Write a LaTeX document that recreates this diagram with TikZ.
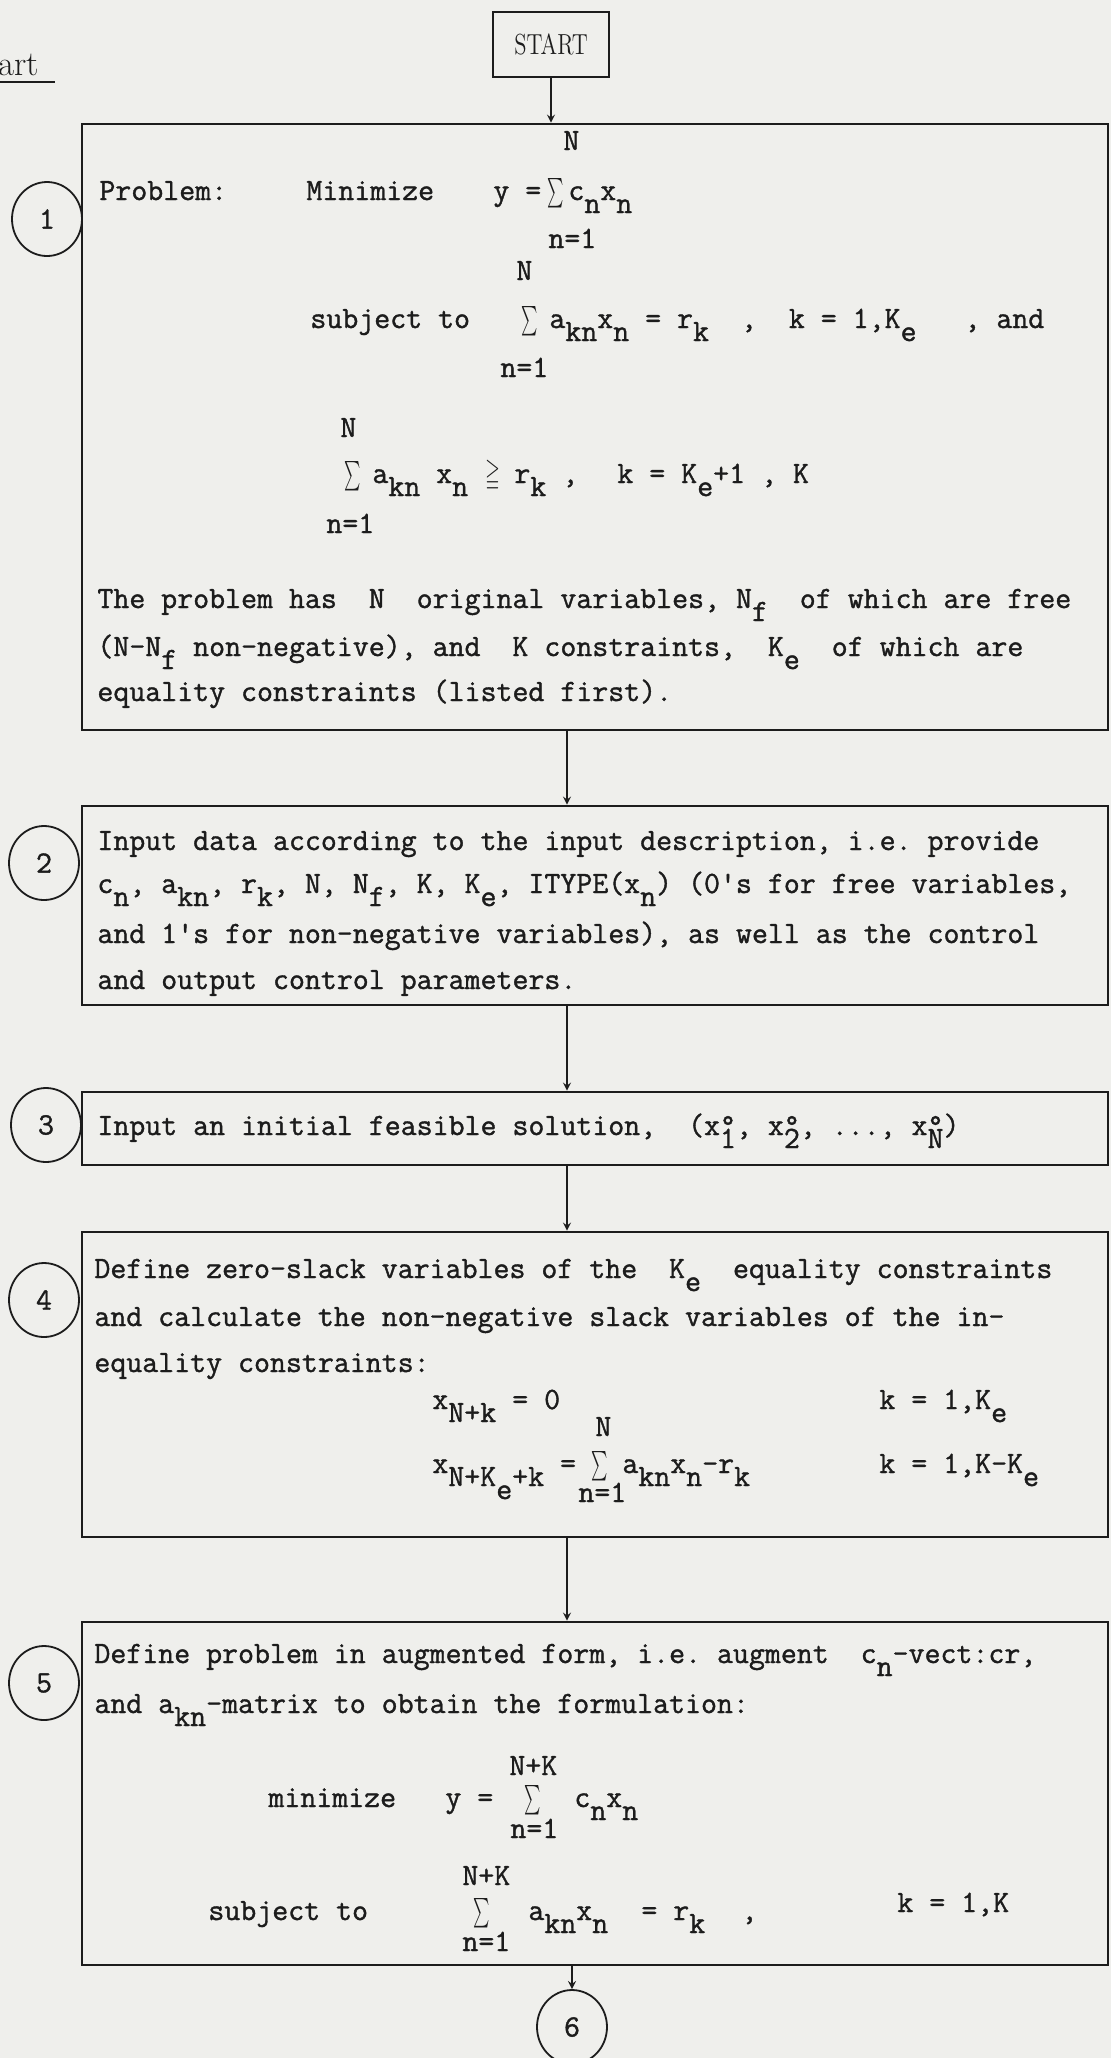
\documentclass[tikz,border=0pt]{standalone}
\usepackage{fontspec}
\setmonofont{Latin Modern Mono}[FakeBold=1.2]
\usepackage{amssymb}
\usepackage{graphicx}
\usetikzlibrary{positioning,shapes.geometric,arrows,calc,fit}

\definecolor{ink}  {HTML}{1C1C1C}
\definecolor{paper}{HTML}{EFEFEC}

\newcommand\tyfont{\fontsize{15.5}{18}\selectfont\ttfamily\frenchspacing}
\newcommand\subdn[1]{\raisebox{-0.42em}{#1}}
\newcommand\sumsym{\scalebox{0.5}[0.95]{$\sum$}}
\newcommand\gesym{\scalebox{0.6}[1]{$\geqq$}}

\tikzset{
  >=stealth,
  % --- nodes
  stepbox/.style  = {draw=ink, line width=1.3pt, inner sep=0pt},
  startbox/.style = {draw=ink, line width=1pt, minimum width=58pt, minimum height=32.5pt,
                     inner sep=0pt, font=\fontsize{14.5}{16}\selectfont, text=ink},
  num/.style      = {ellipse, draw=ink, line width=0.9pt, minimum width=35pt,
                     minimum height=37pt, inner sep=0pt, font=\tyfont, text=ink},
  tw/.style       = {anchor=base west, inner sep=0pt, font=\tyfont, text=ink},
  % --- edges
  flow/.style     = {->, draw=ink, line width=0.8pt},
}

\begin{document}
\begin{tikzpicture}[x=0.5pt,y=-0.5pt]
  \fill[paper] (0,0) rectangle (1111,2058);
  \useasboundingbox (0,0) rectangle (1111,2058);

  % title remnant
  \node[anchor=base west, inner sep=0pt, font=\fontsize{17.4}{20}\selectfont, text=ink] (title) at (-2,75) {art};
  \draw[ink, line width=0.7pt] (title.base west |- 0,82) -- (55,82);

  % start
  \node[startbox] (start) at (551,44.5) {\scalebox{0.78}[1]{START}};

  % step boxes
  \node[stepbox, fit={(82,124) (1108,730)}]   (b1) {};
  \node[stepbox, fit={(82,806) (1108,1005)}]  (b2) {};
  \node[stepbox, fit={(82,1092) (1108,1165)}] (b3) {};
  \node[stepbox, fit={(82,1232) (1108,1537)}] (b4) {};
  \node[stepbox, fit={(82,1622) (1108,1965)}] (b5) {};

  % step numbers
  \node[num] (c1) at (47,219)  {1};
  \node[num] (c2) at (44,863)  {2};
  \node[num] (c3) at (46,1125) {3};
  \node[num] (c4) at (44,1300) {4};
  \node[num] (c5) at (44,1683) {5};
  \node[num] (c6) at (572,2027) {6};

  % flow
  \coordinate (spine) at (567,0);
  \draw[flow] (start.south) -- (start.south |- b1.north);
  \draw[flow] (b1.south -| spine) -- (b2.north -| spine);
  \draw[flow] (b2.south -| spine) -- (b3.north -| spine);
  \draw[flow] (b3.south -| spine) -- (b4.north -| spine);
  \draw[flow] (b4.south -| spine) -- (b5.north -| spine);
  \draw[flow] (b5.south -| c6) -- (c6.north);

  % box 1
  \node[tw] (t1n1) at (563,150) {N};
  \node[tw] (t1p)  at (99,200)  {Problem:};
  \node[tw] (t1m)  at (306,200) {Minimize};
  \node[tw] (t1y)  at (493,200) {y~=};
  \node[tw] (s1a)  at (547,200) {\sumsym};
  \node[tw] (t1c)  at (568,200) {c\subdn{n}x\subdn{n}};
  \node[tw] (t1l1) at (548,248) {n=1};
  \node[tw] (t1n2) at (516,280) {N};
  \node[tw] (t1s)  at (310,328) {subject~to};
  \node[tw] (s1b)  at (521,328) {\sumsym};
  \node[tw] (t1a)  at (549,328) {a\subdn{kn}x\subdn{n}~=~r\subdn{k}~~,~~k~=~1,K\subdn{e}~~~,~and};
  \node[tw] (t1l2) at (500,377) {n=1};
  \node[tw] (t1n3) at (340,437) {N};
  \node[tw] (s1c)  at (344,483) {\sumsym};
  \node[tw] (t1d)  at (372,483) {a\subdn{kn}~x\subdn{n}};
  \node[tw] (t1g)  at (485,483) {\gesym};
  \node[tw] (t1r)  at (514,483) {r\subdn{k}~,};
  \node[tw] (t1k)  at (617,483) {k~=~K\subdn{e}+1~,~K};
  \node[tw] (t1l3) at (326,533) {n=1};
  \node[tw] (t1e1) at (97,608)  {The problem has~~N~~original variables, N\subdn{f}~~of which are free};
  \node[tw] (t1e2) at (97,656)  {(N-N\subdn{f} non-negative), and~~K constraints,~~K\subdn{e}~~of which are};
  \node[tw] (t1e3) at (97,701)  {equality constraints (listed first).};

  % box 2
  \node[tw] (t2a) at (97,850) {Input data according to the input description, i.e. provide};
  \node[tw] (t2b) at (97,893) {c\subdn{n}, a\subdn{kn}, r\subdn{k}, N, N\subdn{f}, K, K\subdn{e}, ITYPE(x\subdn{n}) (0\textquotesingle s for free variables,};
  \node[tw] (t2c) at (97,943) {and 1\textquotesingle s for non-negative variables), as well as the control};
  \node[tw] (t2d) at (97,989) {and output control parameters.};

  % box 3
  \node[tw] (t3a) at (97,1135) {Input an initial feasible solution,~~(x\rlap{°}\subdn{1}, x\rlap{°}\subdn{2}, ..., x\rlap{°}\subdn{N})};

  % box 4
  \node[tw] (t4a) at (94,1278)  {Define zero-slack variables of the~~K\subdn{e}~~equality constraints};
  \node[tw] (t4b) at (94,1326)  {and calculate the non-negative slack variables of the in-};
  \node[tw] (t4c) at (94,1372)  {equality constraints:};
  \node[tw] (t4d) at (432,1409) {x\subdn{N+k}~=~0};
  \node[tw] (t4e) at (879,1409) {k~=~1,K\subdn{e}};
  \node[tw] (t4f) at (595,1436) {N};
  \node[tw] (t4g) at (432,1473) {x\subdn{N+K\subdn{e}+k}~=};
  \node[tw] (s4)  at (591,1473) {\sumsym};
  \node[tw] (t4h) at (622,1473) {a\subdn{kn}x\subdn{n}-r\subdn{k}};
  \node[tw] (t4i) at (879,1473) {k~=~1,K-K\subdn{e}};
  \node[tw] (t4j) at (578,1502) {n=1};

  % box 5
  \node[tw] (t5a) at (94,1663)  {Define problem in augmented form, i.e. augment~~c\subdn{n}-vect:cr,};
  \node[tw] (t5b) at (94,1713)  {and a\subdn{kn}-matrix to obtain the formulation:};
  \node[tw] (t5c) at (509,1775) {N+K};
  \node[tw] (t5d) at (268,1807) {minimize};
  \node[tw] (t5e) at (445,1807) {y~=};
  \node[tw] (s5a) at (524,1807) {\sumsym};
  \node[tw] (t5f) at (574,1807) {c\subdn{n}x\subdn{n}};
  \node[tw] (t5g) at (510,1838) {n=1};
  \node[tw] (t5h) at (462,1885) {N+K};
  \node[tw] (t5i) at (208,1920) {subject~to};
  \node[tw] (s5b) at (473,1920) {\sumsym};
  \node[tw] (t5j) at (528,1920) {a\subdn{kn}x\subdn{n}};
  \node[tw] (t5k) at (641,1920) {=~r\subdn{k}};
  \node[tw] (t5l) at (741,1920) {,};
  \node[tw] (t5m) at (897,1912) {k~=~1,K};
  \node[tw] (t5n) at (462,1951) {n=1};
\end{tikzpicture}
\end{document}
